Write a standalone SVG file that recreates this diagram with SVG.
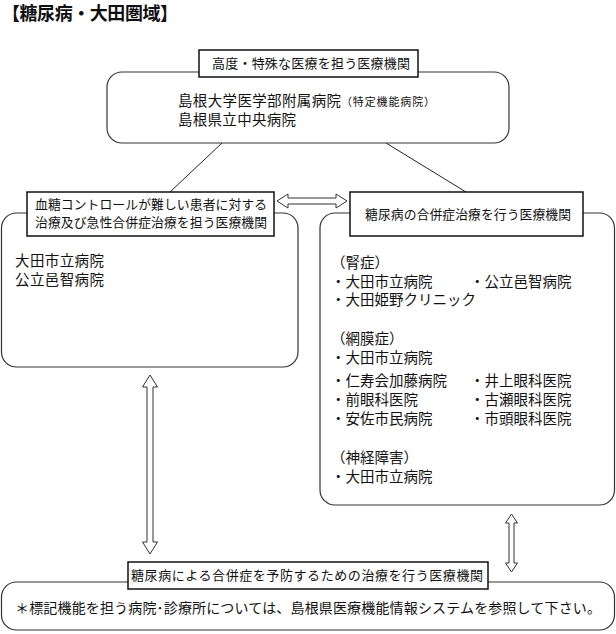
<svg xmlns="http://www.w3.org/2000/svg" width="616" height="634" viewBox="0 0 616 634">
<style>
text{font-family:"Noto Sans CJK JP","Noto Sans CJK SC",sans-serif;fill:#111}
.box{fill:#fff;stroke:#333;stroke-width:1.2}
.lbl{fill:#fff;stroke:#111;stroke-width:1.5}
.arr{fill:#fff;stroke:#333;stroke-width:1}
.ln{stroke:#222;stroke-width:1;fill:none}
.t14{font-size:14.5px}
.t13{font-size:13px}
</style>
<rect width="616" height="634" fill="#fff"/>
<text x="2" y="20" font-size="18" font-weight="bold" textLength="176">【糖尿病・大田圏域】</text>
<g id="connectors">
<line class="ln" x1="222" y1="143" x2="170" y2="192"/>
<line class="ln" x1="386" y1="143" x2="466" y2="192"/>
<polygon class="arr" points="277,201 288,194 288,198 336,198 336,194 347,201 336,208 336,204 288,204 288,208"/>
<polygon class="arr" points="150,375 157.5,387 153,387 153,542 157.5,542 150,554 142.5,542 147,542 147,387 142.5,387"/>
<polygon class="arr" points="511.5,514 517.5,523 514,523 514,563 517.5,563 511.5,572 505.5,563 509,563 509,523 505.5,523"/>
</g>
<g id="node-top">
<rect class="box" x="107" y="72" width="402" height="71" rx="15"/>
<rect class="lbl" x="199" y="50" width="219" height="27"/>
<text class="t13" x="212" y="68" textLength="198">高度・特殊な医療を担う医療機関</text>
<text class="t14" x="178" y="106" textLength="163">島根大学医学部附属病院</text>
<text x="341" y="106" font-size="11" textLength="94">（特定機能病院）</text>
<text class="t14" x="178" y="125" textLength="118">島根県立中央病院</text>
</g>
<g id="node-left">
<rect class="box" x="1.5" y="213" width="296.5" height="154" rx="15"/>
<rect class="lbl" x="27" y="192" width="247" height="44"/>
<text x="35" y="209" font-size="12.8" textLength="232">血糖コントロールが難しい患者に対する</text>
<text x="35" y="227" font-size="12.8" textLength="232">治療及び急性合併症治療を担う医療機関</text>
<text class="t14" x="15" y="266" textLength="89">大田市立病院</text>
<text class="t14" x="15" y="285" textLength="89">公立邑智病院</text>
</g>
<g id="node-right">
<rect class="box" x="320" y="213" width="294.5" height="292" rx="15"/>
<rect class="lbl" x="350" y="192" width="233" height="44"/>
<text x="365" y="219" font-size="12.8" textLength="206">糖尿病の合併症治療を行う医療機関</text>
<text class="t14" x="331" y="268">（腎症）</text>
<text class="t14" x="331" y="287">・大田市立病院</text>
<text class="t14" x="470" y="287">・公立邑智病院</text>
<text class="t14" x="331" y="305">・大田姫野クリニック</text>
<text class="t14" x="331" y="344">（網膜症）</text>
<text class="t14" x="331" y="363">・大田市立病院</text>
<text class="t14" x="331" y="386">・仁寿会加藤病院</text>
<text class="t14" x="470" y="386">・井上眼科医院</text>
<text class="t14" x="331" y="405">・前眼科医院</text>
<text class="t14" x="470" y="405">・古瀬眼科医院</text>
<text class="t14" x="331" y="424">・安佐市民病院</text>
<text class="t14" x="470" y="424">・市頭眼科医院</text>
<text class="t14" x="331" y="463">（神経障害）</text>
<text class="t14" x="331" y="482">・大田市立病院</text>
</g>
<g id="node-bottom">
<rect class="box" x="1.5" y="582" width="613" height="48" rx="15"/>
<rect class="lbl" x="128" y="562" width="360" height="27"/>
<text class="t13" x="131" y="580" textLength="352">糖尿病による合併症を予防するための治療を行う医療機関</text>
<text x="15" y="613" font-size="14" textLength="586">＊標記機能を担う病院･診療所については、島根県医療機能情報システムを参照して下さい。</text>
</g>
</svg>
